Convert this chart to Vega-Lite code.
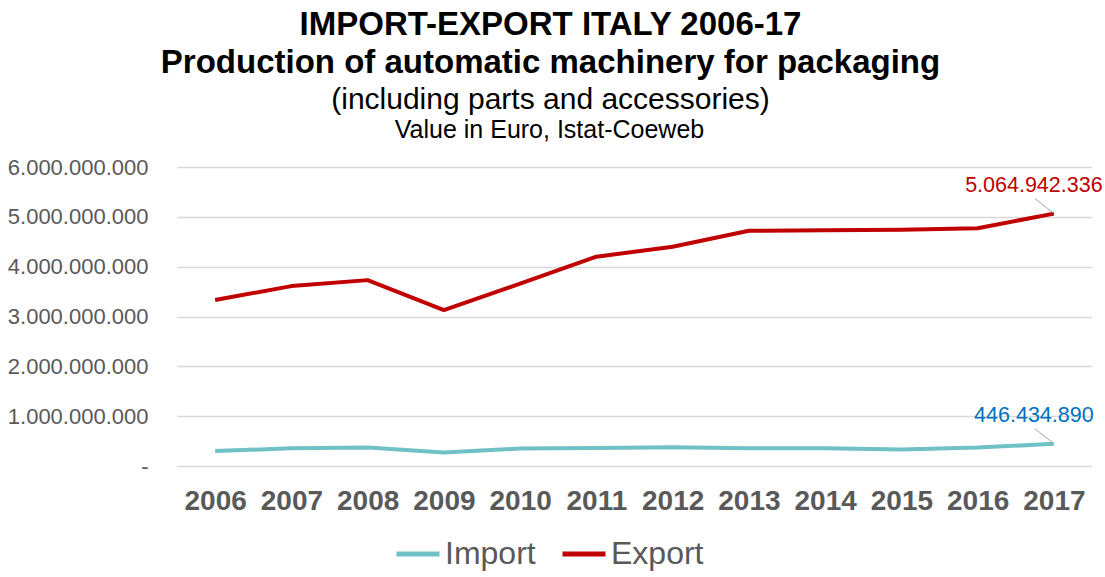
{
  "$schema": "https://vega.github.io/schema/vega-lite/v6.json",
  "width": 915,
  "height": 299,
  "autosize": {"type": "none"},
  "padding": {"left": 177, "top": 167, "right": 13, "bottom": 111},
  "background": "white",
  "config": {
    "locale": {"number": {"decimal": ",", "thousands": ".", "grouping": [3], "currency": ["", " €"]}},
    "font": "Liberation Sans",
    "view": {"stroke": null}
  },
  "title": {
    "text": ["IMPORT-EXPORT ITALY 2006-17", "Production of automatic machinery for packaging"],
    "subtitle": "(including parts and accessories)",
    "anchor": "middle",
    "dx": -84,
    "offset": 2,
    "fontSize": 33,
    "fontWeight": "bold",
    "lineHeight": 38,
    "color": "#000000",
    "subtitleFontSize": 30,
    "subtitleColor": "#000000",
    "subtitlePadding": 5,
    "font": "Liberation Sans",
    "subtitleFont": "Liberation Sans"
  },
  "data": {
    "values": [
      {"year": "2006", "series": "Import", "value": 300000000},
      {"year": "2007", "series": "Import", "value": 355000000},
      {"year": "2008", "series": "Import", "value": 370000000},
      {"year": "2009", "series": "Import", "value": 270000000},
      {"year": "2010", "series": "Import", "value": 350000000},
      {"year": "2011", "series": "Import", "value": 360000000},
      {"year": "2012", "series": "Import", "value": 375000000},
      {"year": "2013", "series": "Import", "value": 355000000},
      {"year": "2014", "series": "Import", "value": 355000000},
      {"year": "2015", "series": "Import", "value": 330000000},
      {"year": "2016", "series": "Import", "value": 370000000},
      {"year": "2017", "series": "Import", "value": 446434890},
      {"year": "2006", "series": "Export", "value": 3330000000},
      {"year": "2007", "series": "Export", "value": 3610000000},
      {"year": "2008", "series": "Export", "value": 3730000000},
      {"year": "2009", "series": "Export", "value": 3130000000},
      {"year": "2010", "series": "Export", "value": 3660000000},
      {"year": "2011", "series": "Export", "value": 4200000000},
      {"year": "2012", "series": "Export", "value": 4400000000},
      {"year": "2013", "series": "Export", "value": 4720000000},
      {"year": "2014", "series": "Export", "value": 4730000000},
      {"year": "2015", "series": "Export", "value": 4740000000},
      {"year": "2016", "series": "Export", "value": 4770000000},
      {"year": "2017", "series": "Export", "value": 5064942336}
    ]
  },
  "encoding": {
    "x": {
      "field": "year",
      "type": "ordinal",
      "scale": {"type": "point", "padding": 0.5},
      "axis": {
        "title": null,
        "labelAngle": 0,
        "labelFontSize": 28,
        "labelFontWeight": "bold",
        "labelColor": "#595959",
        "labelPadding": 21,
        "domain": false,
        "ticks": false,
        "grid": false
      }
    },
    "y": {
      "field": "value",
      "type": "quantitative",
      "scale": {"domain": [0, 6000000000], "nice": false},
      "axis": {
        "values": [0, 1000000000, 2000000000, 3000000000, 4000000000, 5000000000, 6000000000],
        "format": ",d",
        "labelExpr": "datum.value === 0 ? '-\u00a0\u00a0' : datum.label",
        "labelFontSize": 22,
        "labelColor": "#595959",
        "labelPadding": 29,
        "ticks": false,
        "tickSize": 0,
        "domain": false,
        "grid": true,
        "gridColor": "#d9d9d9",
        "gridWidth": 1.5,
        "title": "Value in Euro, Istat-Coeweb",
        "titleAngle": 0,
        "titleAlign": "center",
        "titleBaseline": "alphabetic",
        "titleX": 372,
        "titleY": -30,
        "titleFontSize": 25,
        "titleFontWeight": "normal",
        "titleColor": "#000000"
      }
    }
  },
  "layer": [
    {
      "mark": {"type": "line", "strokeWidth": 4, "strokeJoin": "round"},
      "encoding": {
        "color": {
          "field": "series",
          "type": "nominal",
          "scale": {"domain": ["Import", "Export"], "range": ["#70C1C5", "#C00000"]},
          "legend": {
            "title": null,
            "orient": "none",
            "direction": "horizontal",
            "legendX": 217,
            "legendY": 363,
            "symbolType": "stroke",
            "symbolSize": 1849,
            "symbolStrokeWidth": 5,
            "labelFontSize": 32,
            "labelColor": "#595959",
            "labelOffset": 3,
            "columnPadding": 16
          }
        }
      }
    },
    {
      "transform": [{"filter": "datum.year === '2017'"}],
      "mark": {"type": "rule", "color": "#a6a6a6", "strokeWidth": 1, "xOffset": -1, "yOffset": -1, "x2Offset": -19, "y2Offset": -15},
      "encoding": {
        "x2": {"field": "year"},
        "y2": {"field": "value"}
      }
    },
    {
      "transform": [{"filter": "datum.year === '2017'"}],
      "mark": {"type": "text", "fontSize": 21.5, "align": "center", "baseline": "alphabetic", "dx": -20, "dy": -22},
      "encoding": {
        "text": {"field": "value", "type": "quantitative", "format": ",d"},
        "color": {"condition": {"test": "datum.series === 'Export'", "value": "#C00000"}, "value": "#0070C0"}
      }
    }
  ]
}
